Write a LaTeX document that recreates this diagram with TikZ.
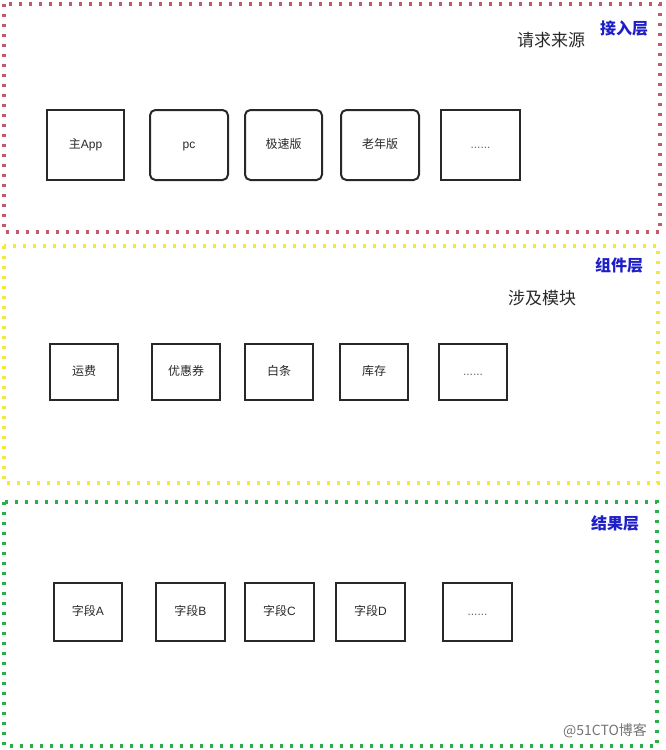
\documentclass[tikz,border=0pt]{standalone}
\usepackage{fontspec}
\setmainfont{Noto Sans CJK SC}
\newfontfamily\latin{Liberation Sans}
\usepackage{tikz}

\definecolor{layerred}{RGB}{195,90,105}
\definecolor{layeryellow}{RGB}{245,232,60}
\definecolor{layergreen}{RGB}{40,175,70}
\definecolor{labelblue}{RGB}{30,30,200}
\definecolor{boxgray}{RGB}{40,40,40}

\tikzset{
  layerbox/.style={line width=2.4pt,dash pattern=on 2.4pt off 5.1pt},
  itembox/.style={draw=boxgray,line width=1.5pt,fill=white,inner sep=0pt,
    text height=7pt,text depth=1.5pt,
    font=\fontsize{9}{11}\selectfont,text=boxgray},
  roundbox/.style={itembox,rounded corners=4pt},
  layerlabel/.style={font=\fontsize{12}{14}\selectfont\bfseries,text=labelblue},
  areatitle/.style={font=\fontsize{12.75}{15}\selectfont,text=boxgray}
}
\newcommand{\moredots}{{\latin\textcolor{black!60}{......}}}

\begin{document}
\begin{tikzpicture}[x=0.75pt,y=-0.75pt]
% 666 x 750 px
\useasboundingbox (0,0) rectangle (666,750);

% layers
\draw[layerbox,draw=layerred] (4,4) rectangle (660,232);
\draw[layerbox,draw=layeryellow] (4,246) rectangle (658,483);
\draw[layerbox,draw=layergreen] (4,502) rectangle (657,746);

% access layer
\node[layerlabel] (accesslabel) at (624,28) {接入层};
\node[areatitle] (accesstitle) at (551,40) {请求来源};
\node[itembox,minimum width=57.75pt,minimum height=52.5pt] (mainapp) at (85.5,145) {主{\latin App}};
\node[roundbox,minimum width=58.5pt,minimum height=52.5pt] (pc) at (189,145) {\latin pc};
\node[roundbox,minimum width=57.75pt,minimum height=52.5pt] (lite) at (283.5,145) {极速版};
\node[roundbox,minimum width=58.5pt,minimum height=52.5pt] (senior) at (380,145) {老年版};
\node[itembox,minimum width=59.25pt,minimum height=52.5pt] (accessmore) at (480.5,145) {\moredots};

% component layer
\node[layerlabel] (complabel) at (619,265) {组件层};
\node[areatitle] (comptitle) at (542,298) {涉及模块};
\node[itembox,minimum width=51pt,minimum height=42pt] (freight) at (84,372) {运费};
\node[itembox,minimum width=51pt,minimum height=42pt] (coupon) at (186,372) {优惠券};
\node[itembox,minimum width=51pt,minimum height=42pt] (credit) at (279,372) {白条};
\node[itembox,minimum width=51pt,minimum height=42pt] (stock) at (374,372) {库存};
\node[itembox,minimum width=51pt,minimum height=42pt] (compmore) at (473,372) {\moredots};

% result layer
\node[layerlabel] (resultlabel) at (615,523) {结果层};
\node[itembox,minimum width=51pt,minimum height=43.5pt] (fielda) at (88,612) {字段{\latin A}};
\node[itembox,minimum width=51.75pt,minimum height=43.5pt] (fieldb) at (190.5,612) {字段{\latin B}};
\node[itembox,minimum width=51.75pt,minimum height=43.5pt] (fieldc) at (279.5,612) {字段{\latin C}};
\node[itembox,minimum width=51.75pt,minimum height=43.5pt] (fieldd) at (370.5,612) {字段{\latin D}};
\node[itembox,minimum width=51.75pt,minimum height=43.5pt] (resultmore) at (477.5,612) {\moredots};

\node[font=\fontsize{10.5}{12}\selectfont,text=black!55] (watermark) at (605,731) {@51CTO博客};
\end{tikzpicture}
\end{document}
